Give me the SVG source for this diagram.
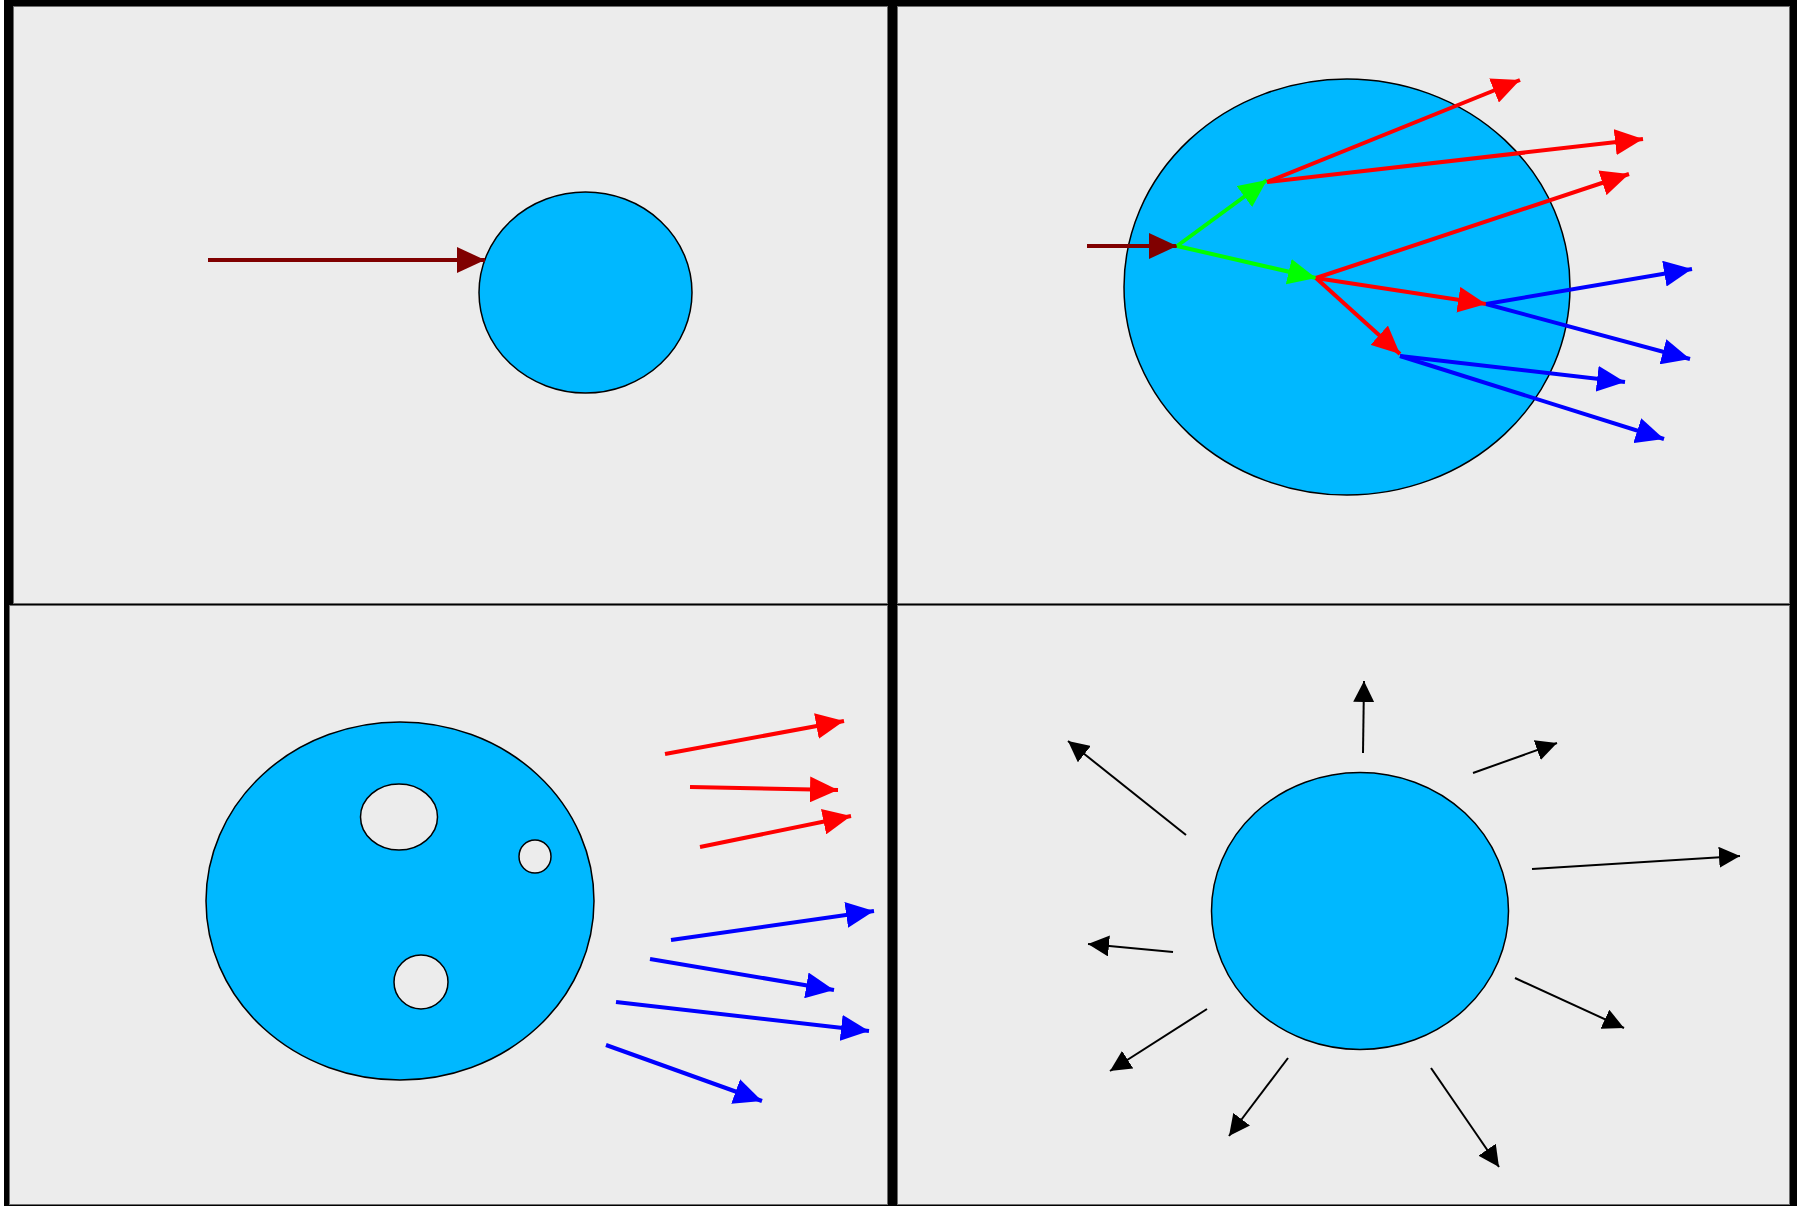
<svg xmlns="http://www.w3.org/2000/svg" width="1797" height="1206" viewBox="0 0 1797 1206">
<style>
.panel{fill:#ececec;stroke:#6e6e6e;stroke-width:1}
.blob{fill:#00b8ff;stroke:#000;stroke-width:1.5}
.hole{fill:#ececec;stroke:#000;stroke-width:1.5}
.c{fill:none;stroke-width:4}
.mr{stroke:#800000}
.r{stroke:#ff0000}
.g{stroke:#00ff00}
.b{stroke:#0000ff}
.k{fill:none;stroke:#000;stroke-width:2}
</style>
<defs>
<marker id="aMr" markerUnits="userSpaceOnUse" markerWidth="28" markerHeight="26" refX="28" refY="13" orient="auto"><path d="M0,0 L28,13 L0,26 z" fill="#800000"/></marker>
<marker id="aR" markerUnits="userSpaceOnUse" markerWidth="28" markerHeight="26" refX="28" refY="13" orient="auto"><path d="M0,0 L28,13 L0,26 z" fill="#ff0000"/></marker>
<marker id="aG" markerUnits="userSpaceOnUse" markerWidth="28" markerHeight="26" refX="28" refY="13" orient="auto"><path d="M0,0 L28,13 L0,26 z" fill="#00ff00"/></marker>
<marker id="aB" markerUnits="userSpaceOnUse" markerWidth="28" markerHeight="26" refX="28" refY="13" orient="auto"><path d="M0,0 L28,13 L0,26 z" fill="#0000ff"/></marker>
<marker id="aK" markerUnits="userSpaceOnUse" markerWidth="21" markerHeight="21" refX="21" refY="10.5" orient="auto"><path d="M0,0 L21,10.5 L0,21 z" fill="#000"/></marker>
</defs>
<rect x="0" y="0" width="1797" height="1206" fill="#ffffff"/>
<rect x="4" y="0" width="1793" height="1206" fill="#000000"/>
<g id="panel-tl">
<rect class="panel" x="13.5" y="6.5" width="874" height="597"/>
<ellipse id="drop-tl" class="blob" cx="585.5" cy="292.5" rx="106.5" ry="100.5"/>
</g>
<g id="panel-tr">
<rect class="panel" x="897.5" y="6.5" width="892" height="597"/>
<ellipse id="drop-tr" class="blob" cx="1347" cy="287" rx="223" ry="208"/>
</g>
<g id="panel-bl">
<rect class="panel" x="9.5" y="605.5" width="878" height="599"/>
<ellipse id="drop-bl" class="blob" cx="400" cy="901" rx="194" ry="179"/>
<ellipse class="hole" cx="399" cy="817" rx="38.5" ry="33"/>
<ellipse class="hole" cx="535" cy="856.5" rx="16" ry="16.5"/>
<ellipse class="hole" cx="421" cy="982" rx="27" ry="27"/>
</g>
<g id="panel-br">
<rect class="panel" x="897.5" y="605.5" width="892" height="599"/>
<ellipse id="drop-br" class="blob" cx="1360" cy="911" rx="148.5" ry="138.5"/>
</g>
<g id="connectors">
<line class="c mr" x1="208" y1="260" x2="485" y2="260" marker-end="url(#aMr)"/>
<line class="c mr" x1="1087" y1="246" x2="1177" y2="246" marker-end="url(#aMr)"/>
<line class="c g" x1="1177" y1="246" x2="1267" y2="180" marker-end="url(#aG)"/>
<line class="c g" x1="1177" y1="246" x2="1316" y2="278" marker-end="url(#aG)"/>
<line class="c r" x1="1267" y1="182" x2="1520" y2="80" marker-end="url(#aR)"/>
<line class="c r" x1="1267" y1="182" x2="1643" y2="139" marker-end="url(#aR)"/>
<line class="c r" x1="1316" y1="278" x2="1629" y2="174" marker-end="url(#aR)"/>
<line class="c r" x1="1316" y1="278" x2="1486" y2="304" marker-end="url(#aR)"/>
<line class="c r" x1="1316" y1="278" x2="1400" y2="354" marker-end="url(#aR)"/>
<line class="c b" x1="1486" y1="304" x2="1692" y2="269" marker-end="url(#aB)"/>
<line class="c b" x1="1486" y1="304" x2="1690" y2="359" marker-end="url(#aB)"/>
<line class="c b" x1="1400" y1="356" x2="1625" y2="382" marker-end="url(#aB)"/>
<line class="c b" x1="1400" y1="356" x2="1664" y2="439" marker-end="url(#aB)"/>
<line class="c r" x1="665" y1="754" x2="844" y2="721" marker-end="url(#aR)"/>
<line class="c r" x1="690" y1="787" x2="838" y2="790" marker-end="url(#aR)"/>
<line class="c r" x1="700" y1="847" x2="851" y2="816" marker-end="url(#aR)"/>
<line class="c b" x1="671" y1="940" x2="874" y2="911" marker-end="url(#aB)"/>
<line class="c b" x1="650" y1="959" x2="834" y2="990" marker-end="url(#aB)"/>
<line class="c b" x1="616" y1="1002" x2="869" y2="1031" marker-end="url(#aB)"/>
<line class="c b" x1="606" y1="1045" x2="762" y2="1101" marker-end="url(#aB)"/>
<line class="k" x1="1363" y1="753" x2="1364" y2="681" marker-end="url(#aK)"/>
<line class="k" x1="1473" y1="773" x2="1557" y2="743" marker-end="url(#aK)"/>
<line class="k" x1="1532" y1="869" x2="1740" y2="856" marker-end="url(#aK)"/>
<line class="k" x1="1515" y1="978" x2="1624" y2="1028" marker-end="url(#aK)"/>
<line class="k" x1="1431" y1="1068" x2="1499" y2="1167" marker-end="url(#aK)"/>
<line class="k" x1="1288" y1="1058" x2="1229" y2="1136" marker-end="url(#aK)"/>
<line class="k" x1="1207" y1="1009" x2="1110" y2="1071" marker-end="url(#aK)"/>
<line class="k" x1="1173" y1="952" x2="1088" y2="944" marker-end="url(#aK)"/>
<line class="k" x1="1186" y1="835" x2="1068" y2="741" marker-end="url(#aK)"/>
</g>
</svg>
